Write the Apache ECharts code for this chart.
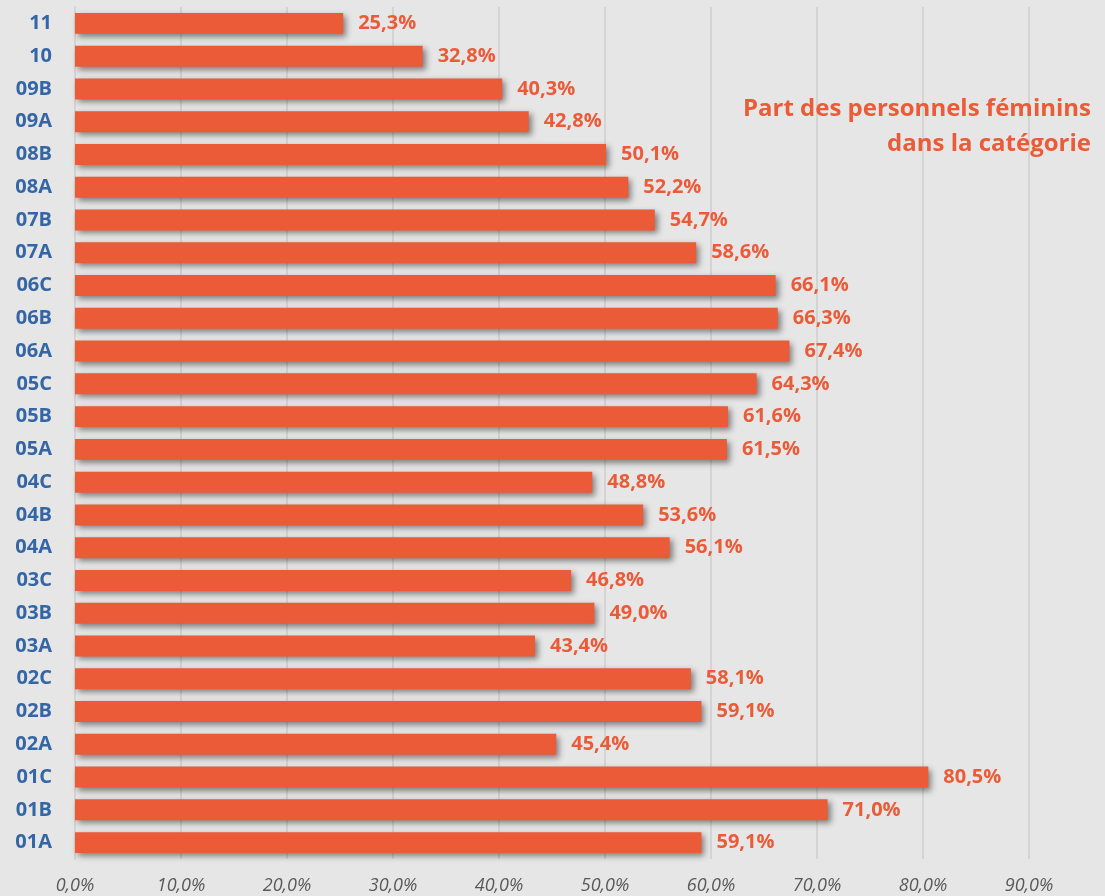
<!DOCTYPE html>
<html>
<head>
<meta charset="utf-8">
<script src="https://cdn.jsdelivr.net/npm/echarts@6/dist/echarts.min.js"></script>
<style>
    html, body { margin: 0; padding: 0; background: #e6e6e6; }
    #chart { width: 1105px; height: 896px; }
</style>
</head>
<body>
<div id="chart"></div>
<script>
//catégories (du bas vers le haut)
const categories = ['01A', '01B', '01C', '02A', '02B', '02C', '03A', '03B', '03C', '04A', '04B', '04C',
    '05A', '05B', '05C', '06A', '06B', '06C', '07A', '07B', '08A', '08B', '09A', '09B', '10', '11'];
//part des personnels féminins (%)
const values = [59.1, 71.0, 80.5, 45.4, 59.1, 58.1, 43.4, 49.0, 46.8, 56.1, 53.6, 48.8,
    61.5, 61.6, 64.3, 67.4, 66.3, 66.1, 58.6, 54.7, 52.2, 50.1, 42.8, 40.3, 32.8, 25.3];
const titleLines = ['Part des personnels féminins', 'dans la catégorie'];

const orange = '#eb5b37';
const font = '"Open Sans", "Liberation Sans", sans-serif';

function pct(v) {
    return v.toFixed(1).replace('.', ',') + '%';
}

const chart = echarts.init(document.getElementById('chart'));
chart.setOption({
    backgroundColor: '#e6e6e6',
    animation: false,
    graphic: titleLines.map(function (line, i) {
        return {
            type: 'text',
            right: 14,
            top: 97 + i * 35,
            z: 10,
            style: {
                text: line,
                fill: orange,
                font: 'bold 24px ' + font
            }
        };
    }),
    grid: {
        left: 75,
        right: 76,
        top: 7,
        bottom: 37,
        containLabel: false
    },
    xAxis: {
        type: 'value',
        min: 0,
        max: 90,
        interval: 10,
        axisLine: { show: false },
        axisTick: { show: false },
        splitLine: { lineStyle: { color: '#d4d4d4', width: 2 } },
        axisLabel: {
            formatter: pct,
            color: '#595959',
            fontStyle: 'italic',
            fontFamily: font,
            fontSize: 18,
            margin: 18
        }
    },
    yAxis: {
        type: 'category',
        data: categories,
        axisLine: { lineStyle: { color: '#d4d4d4', width: 2 } },
        axisTick: { show: false },
        axisLabel: {
            color: '#3466a5',
            fontWeight: 'bold',
            fontFamily: font,
            fontSize: 20,
            margin: 23
        }
    },
    series: [{
        type: 'bar',
        data: values,
        barCategoryGap: '36%',
        itemStyle: {
            color: orange,
            shadowColor: 'rgba(0,0,0,0.45)',
            shadowBlur: 6,
            shadowOffsetX: 3,
            shadowOffsetY: 3
        },
        label: {
            show: true,
            position: 'right',
            distance: 15,
            formatter: function (p) { return pct(p.value); },
            color: orange,
            fontWeight: 'bold',
            fontFamily: font,
            fontSize: 20
        }
    }]
});
</script>
</body>
</html>
